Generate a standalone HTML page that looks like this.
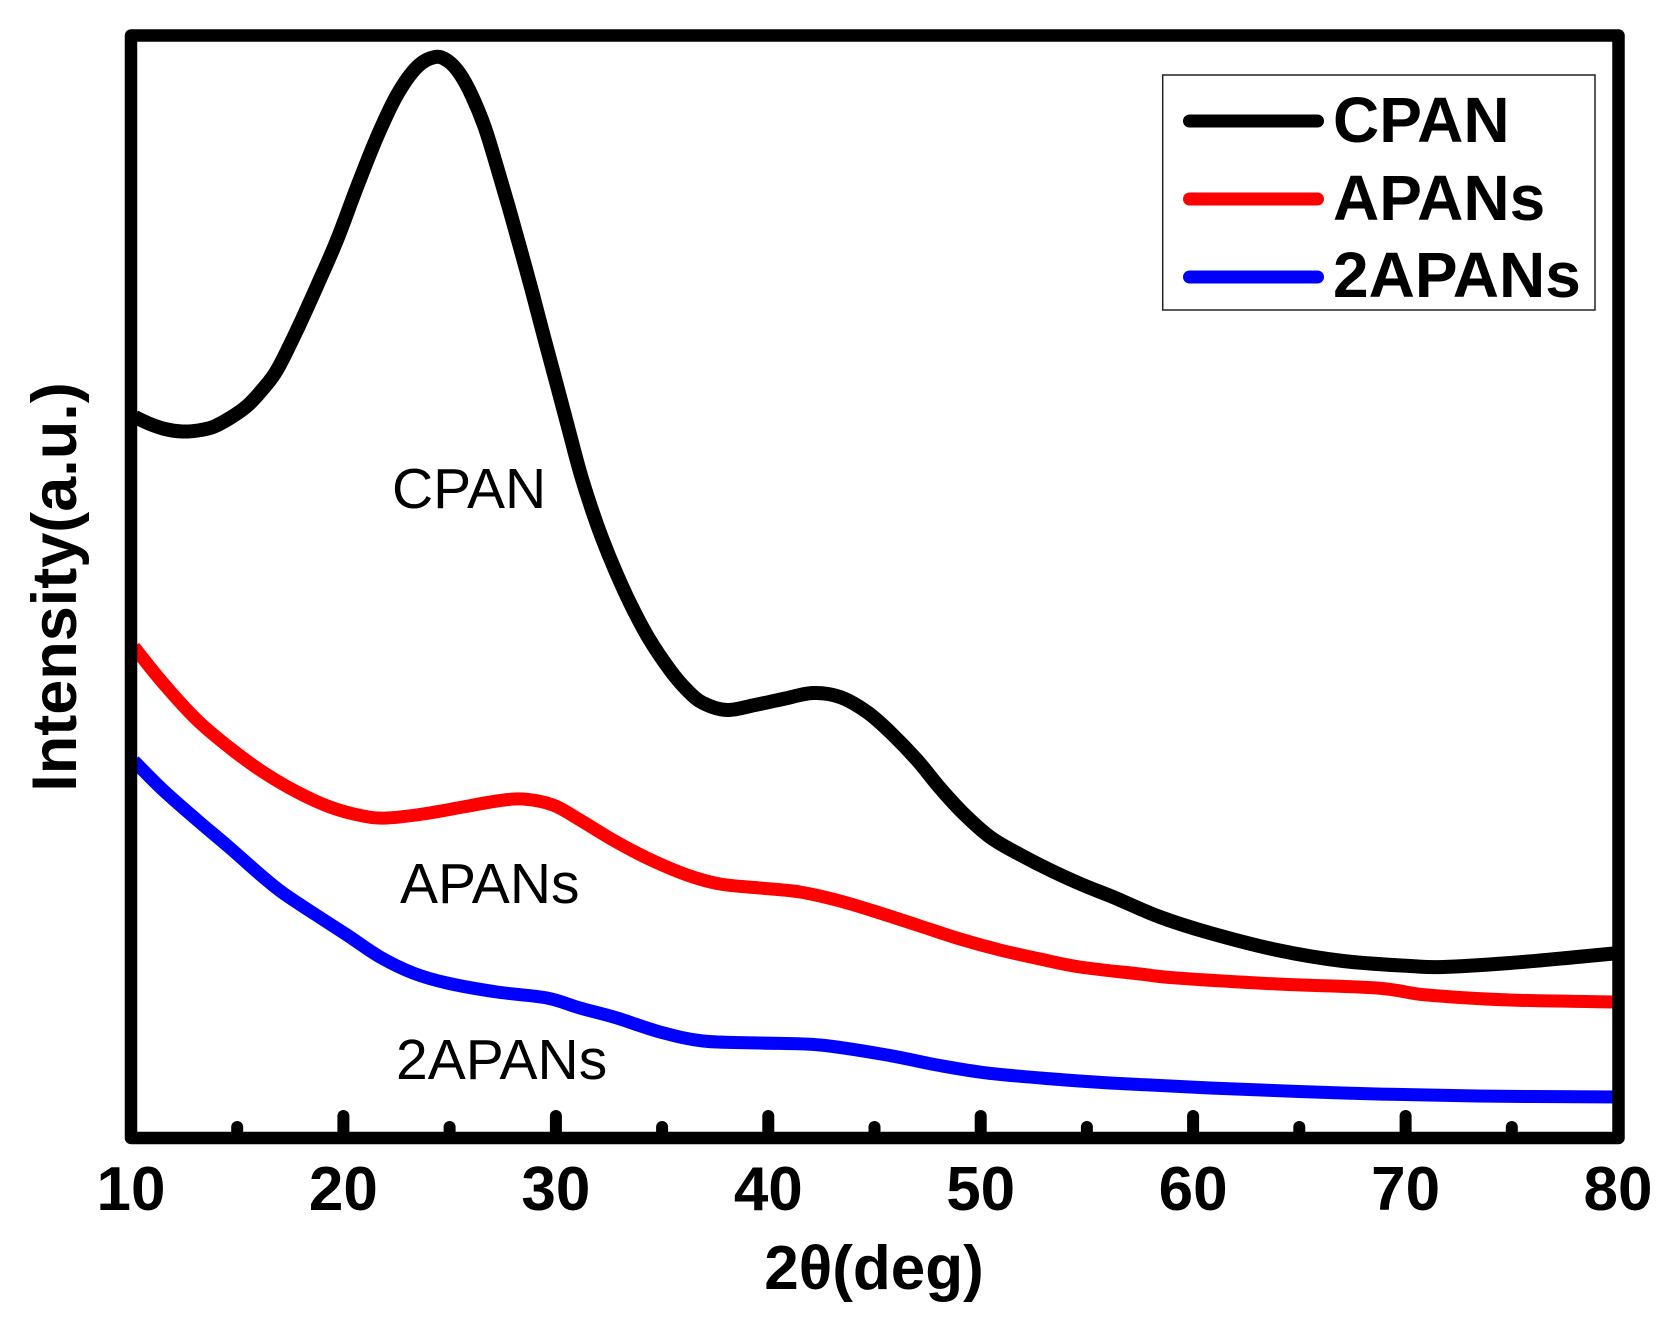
<!DOCTYPE html>
<html>
<head>
<meta charset="utf-8">
<style>
  html, body { margin:0; padding:0; background:#ffffff; }
  svg { display:block; }
  .tick { font-family:"Liberation Sans", Arial, sans-serif; font-weight:bold; font-size:62px; fill:#000; }
  .ann { font-family:"Liberation Sans", Arial, sans-serif; font-size:57px; fill:#000; }
  .leg { font-family:"Liberation Sans", Arial, sans-serif; font-weight:bold; font-size:64px; fill:#000; }
</style>
</head>
<body>
<svg width="1680" height="1323" viewBox="0 0 1680 1323" xmlns="http://www.w3.org/2000/svg">
  <rect x="0" y="0" width="1680" height="1323" fill="#ffffff"/>

  <!-- Blue 2APANs -->
  <polyline class="smooth" fill="none" stroke="#0000ff" stroke-width="13" stroke-linejoin="round"
    points="134,761 163,790 197,820 230,848 263,877 283,893 313,913 347,935 380,957 413,973 447,983 497,992 547,998 580,1008 617,1018 660,1032 703,1041 760,1043 820,1045 887,1055 937,1065 987,1073 1053,1079 1110,1083 1210,1088 1343,1093 1477,1096 1619,1097"/>

  <!-- Red APANs -->
  <polyline class="smooth" fill="none" stroke="#ff0000" stroke-width="13" stroke-linejoin="round"
    points="134,647 163,683 197,720 230,748 263,772 297,792 330,807 363,816 387,818 423,814 463,807 497,801 523,799 553,805 580,820 613,840 647,858 687,875 720,884 760,888 800,892 840,901 880,913 920,926 960,939 1000,950 1040,959 1080,967 1140,974 1177,978 1277,984 1377,988 1427,995 1510,1000 1619,1002"/>

  <!-- Black CPAN -->
  <polyline class="smooth" fill="none" stroke="#000000" stroke-width="14" stroke-linejoin="round"
    points="135,417 150,424 165,429 182,431.5 198,430.5 213,427 230,418 247,406 262,390 277,370 297,330 317,286 337,240 357,187 377,137 397,95 417,67 435,57 448,61 460,74 472,96 485,128 497,167 509,208 521,251 533,295 544,337 555,378 568,427 580,472 591,507 602,538 615,570 630,603 648,637 670,670 687,690 703,703 727,710 755,705 783,699 813,693 840,697 867,712 890,732 917,760 940,788 963,813 990,837 1017,853 1050,870 1083,885 1113,897 1160,917 1210,933 1277,950 1343,961 1410,966 1443,967 1510,963 1577,957 1619,953"/>

  <!-- Frame -->
  <rect x="131" y="35.5" width="1487.5" height="1102.5" fill="none" stroke="#000" stroke-width="12.5" stroke-linejoin="round"/>

  <!-- Ticks -->
  <g stroke="#000" stroke-width="12" stroke-linecap="round">
    <line x1="343.4" y1="1138" x2="343.4" y2="1116"/>
    <line x1="555.9" y1="1138" x2="555.9" y2="1116"/>
    <line x1="768.3" y1="1138" x2="768.3" y2="1116"/>
    <line x1="980.7" y1="1138" x2="980.7" y2="1116"/>
    <line x1="1193.1" y1="1138" x2="1193.1" y2="1116"/>
    <line x1="1405.6" y1="1138" x2="1405.6" y2="1116"/>
    <line x1="237.2" y1="1138" x2="237.2" y2="1127"/>
    <line x1="449.6" y1="1138" x2="449.6" y2="1127"/>
    <line x1="662.1" y1="1138" x2="662.1" y2="1127"/>
    <line x1="874.5" y1="1138" x2="874.5" y2="1127"/>
    <line x1="1086.9" y1="1138" x2="1086.9" y2="1127"/>
    <line x1="1299.3" y1="1138" x2="1299.3" y2="1127"/>
    <line x1="1511.8" y1="1138" x2="1511.8" y2="1127"/>
  </g>

  <!-- Tick labels -->
  <g class="tick" text-anchor="middle">
    <text x="131" y="1210">10</text>
    <text x="343.4" y="1210">20</text>
    <text x="555.9" y="1210">30</text>
    <text x="768.3" y="1210">40</text>
    <text x="980.7" y="1210">50</text>
    <text x="1193.1" y="1210">60</text>
    <text x="1405.6" y="1210">70</text>
    <text x="1618" y="1210">80</text>
  </g>

  <!-- Axis titles -->
  <text x="874" y="1289" text-anchor="middle" font-family="Liberation Sans, Arial, sans-serif" font-weight="bold" font-size="62">2θ(deg)</text>
  <text transform="translate(76,587) rotate(-90)" x="0" y="0" text-anchor="middle" font-family="Liberation Sans, Arial, sans-serif" font-weight="bold" font-size="63">Intensity(a.u.)</text>

  <!-- In-plot annotations -->
  <text class="ann" x="392" y="508">CPAN</text>
  <text class="ann" x="400" y="903">APANs</text>
  <text class="ann" x="396" y="1079">2APANs</text>

  <!-- Legend -->
  <rect x="1162.7" y="75" width="432.3" height="235" fill="#ffffff" stroke="#222" stroke-width="1.5"/>
  <g stroke-width="13" stroke-linecap="round">
    <line x1="1189.5" y1="121" x2="1317.5" y2="121" stroke="#000000"/>
    <line x1="1189.5" y1="199" x2="1317.5" y2="199" stroke="#ff0000"/>
    <line x1="1189.5" y1="277" x2="1317.5" y2="277" stroke="#0000ff"/>
  </g>
  <text class="leg" x="1333" y="142">CPAN</text>
  <text class="leg" x="1333" y="220">APANs</text>
  <text class="leg" x="1333" y="297">2APANs</text>
</svg>
<script>
(function(){
  var NS = "http://www.w3.org/2000/svg";
  var pls = document.querySelectorAll("polyline.smooth");
  for (var k = 0; k < pls.length; k++) {
    var pl = pls[k];
    var raw = pl.getAttribute("points").trim().split(/\s+/);
    var p = raw.map(function(s){ var a = s.split(","); return [parseFloat(a[0]), parseFloat(a[1])]; });
    var d = "M" + p[0][0] + "," + p[0][1];
    for (var i = 0; i < p.length - 1; i++) {
      var p0 = p[i > 0 ? i - 1 : i], p1 = p[i], p2 = p[i + 1], p3 = p[i + 2 < p.length ? i + 2 : i + 1];
      var c1x = p1[0] + (p2[0] - p0[0]) / 6, c1y = p1[1] + (p2[1] - p0[1]) / 6;
      var c2x = p2[0] - (p3[0] - p1[0]) / 6, c2y = p2[1] - (p3[1] - p1[1]) / 6;
      d += " C" + c1x.toFixed(2) + "," + c1y.toFixed(2) + " " + c2x.toFixed(2) + "," + c2y.toFixed(2) + " " + p2[0] + "," + p2[1];
    }
    var path = document.createElementNS(NS, "path");
    path.setAttribute("d", d);
    path.setAttribute("fill", "none");
    path.setAttribute("stroke", pl.getAttribute("stroke"));
    path.setAttribute("stroke-width", pl.getAttribute("stroke-width"));
    path.setAttribute("stroke-linejoin", "round");
    pl.parentNode.replaceChild(path, pl);
  }
})();
</script>
</body>
</html>
